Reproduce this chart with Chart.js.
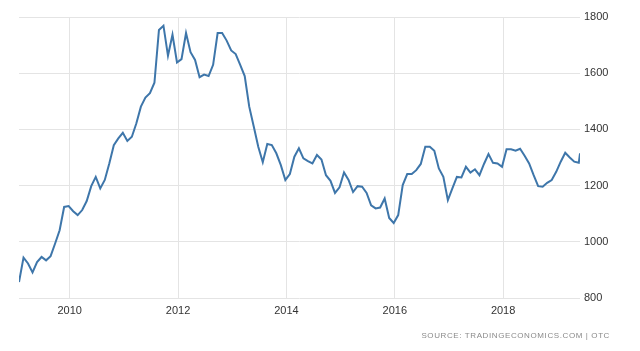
<!DOCTYPE html>
<html>
<head>
<meta charset="utf-8">
<script src="https://cdn.jsdelivr.net/npm/chart.js@4"></script>
<style>
  html, body { margin: 0; padding: 0; background: #fff; }
  .wrap { position: relative; width: 640px; height: 351px; }
  .source {
    position: absolute; right: 30px; top: 331px;
    font: 8px "Liberation Sans Narrow", "Liberation Sans", Arial, sans-serif;
    letter-spacing: 0.6px; color: #8a8a8a;
  }
</style>
</head>
<body>
<div class="wrap">
  <canvas id="chart" width="640" height="351"></canvas>
  <div class="source">SOURCE: TRADINGECONOMICS.COM | OTC</div>
</div>
<script>
// monthly values, Jan 2009 .. May 2019, plus the latest reading
const firstYear = 2009;
const prices = [
  857, 944, 923, 891, 928, 946, 934, 949, 994, 1041,
  1124, 1127, 1109, 1095, 1113, 1145, 1198, 1231, 1190, 1220,
  1279, 1344, 1368, 1388, 1359, 1374, 1422, 1481, 1513, 1529,
  1566, 1754, 1769, 1662, 1737, 1638, 1650, 1743, 1675, 1647,
  1586, 1595, 1590, 1630, 1743, 1743, 1716, 1681, 1668, 1630,
  1590, 1481, 1410, 1338, 1283, 1348, 1344, 1315, 1273, 1220,
  1241, 1303, 1333, 1297, 1287, 1279, 1309, 1293, 1237, 1217,
  1174, 1194, 1247, 1220, 1177, 1198, 1196, 1174, 1130, 1119,
  1122, 1154, 1085, 1067, 1095, 1202, 1241, 1241, 1255, 1277,
  1338, 1338, 1324, 1261, 1231, 1148, 1190, 1231, 1229, 1267,
  1246, 1258, 1237, 1277, 1312, 1281, 1279, 1267, 1329, 1329,
  1324, 1331, 1306, 1279, 1237, 1198, 1196, 1210, 1220, 1249,
  1285, 1317, 1300, 1285, 1281, 1315
];
const lastDate = "2019-06-03";
const yearTicks = [2010, 2012, 2014, 2016, 2018];
const yTicks = [800, 1000, 1200, 1400, 1600, 1800];

const toYear = (s) => {
  const d = new Date(s + "T00:00:00Z");
  const start = Date.UTC(d.getUTCFullYear(), 0, 1);
  return d.getUTCFullYear() + (d - start) / (365 * 86400000);
};

const points = prices.map((v, i) => {
  let x;
  if (i === prices.length - 1) x = toYear(lastDate);
  else x = firstYear + (i + 0.76) / 12;
  return { x: x, y: v };
});

const tickFont = { family: "'Liberation Sans Narrow', 'Liberation Sans', Arial, sans-serif", size: 11 };

new Chart(document.getElementById("chart").getContext("2d"), {
  type: "line",
  data: {
    datasets: [
      {
        data: points,
        borderColor: "rgb(62, 118, 170)",
        borderWidth: 2,
        pointRadius: 0,
        tension: 0,
        fill: false,
      },
    ],
  },
  options: {
    responsive: false,
    animation: false,
    layout: { padding: { left: 19, top: 17, right: 0, bottom: 0 } },
    plugins: { legend: { display: false }, tooltip: { enabled: false } },
    scales: {
      x: {
        type: "linear",
        min: points[0].x,
        max: points[points.length - 1].x,
        afterBuildTicks: (axis) => {
          axis.ticks = yearTicks.map((v) => ({ value: v }));
        },
        afterFit: (axis) => { axis.height = 53; },
        grid: { color: "#e4e4e4", drawTicks: false, lineWidth: 1 },
        border: { display: false },
        ticks: {
          padding: 6,
          color: "#333",
          font: tickFont,
          callback: (v) => String(v),
        },
      },
      y: {
        position: "right",
        min: 800,
        max: 1800,
        afterBuildTicks: (axis) => {
          axis.ticks = yTicks.map((v) => ({ value: v }));
        },
        afterFit: (axis) => { axis.width = 60; },
        grid: { color: "#e4e4e4", drawTicks: false, lineWidth: 1 },
        border: { display: false },
        ticks: {
          padding: 4,
          color: "#333",
          font: tickFont,
          callback: (v) => String(v),
        },
      },
    },
  },
});
</script>
</body>
</html>
